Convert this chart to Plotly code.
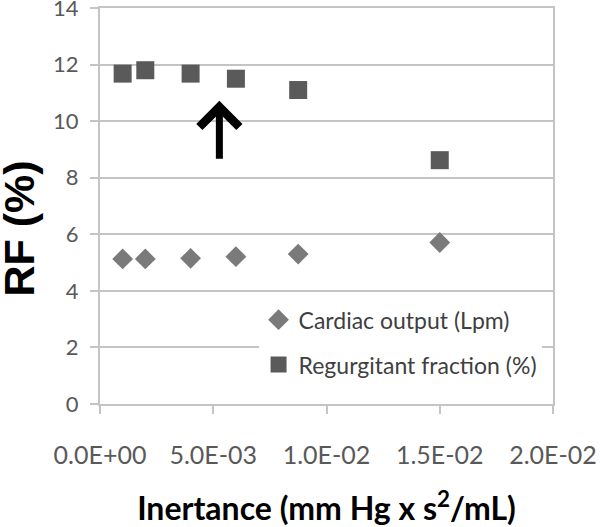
import plotly.graph_objects as go

# Data
inertance = [0.0010, 0.0020, 0.0040, 0.0060, 0.00875, 0.0150]
cardiac_output = [5.13, 5.13, 5.15, 5.21, 5.30, 5.71]
regurgitant_fraction = [11.68, 11.80, 11.68, 11.50, 11.10, 8.62]
x_ticks = [0.0, 0.005, 0.010, 0.015, 0.020]
x_tick_labels = ["0.0E+00", "5.0E-03", "1.0E-02", "1.5E-02", "2.0E-02"]
y_ticks = [0, 2, 4, 6, 8, 10, 12, 14]
arrow_x = 0.00527
arrow_from = 8.62
arrow_to = 10.72

grid_color = "#c4c4c4"

fig = go.Figure()
fig.add_trace(go.Scatter(
    x=inertance, y=cardiac_output, mode="markers",
    name="Cardiac output (Lpm)", legendgroup="a",
    marker=dict(symbol="diamond", size=16, color="#7a7a7a"),
))
fig.add_trace(go.Scatter(
    x=inertance, y=regurgitant_fraction, mode="markers",
    name="Regurgitant fraction (%)", legendgroup="b",
    marker=dict(symbol="square", size=18, color="#5a5a5a"),
))

fig.add_annotation(
    x=arrow_x, y=arrow_to, ax=arrow_x, ay=arrow_from,
    xref="x", yref="y", axref="x", ayref="y",
    text="", showarrow=True, arrowhead=4, arrowwidth=7, arrowsize=1.1,
    arrowcolor="#000000", standoff=0, startstandoff=0,
)

fig.add_annotation(
    x=-0.178, y=0.444, xref="paper", yref="paper",
    xanchor="center", yanchor="middle",
    text="<b>RF (%)</b>", textangle=-90, showarrow=False,
    font=dict(family="Liberation Sans", size=43, color="#000000"),
)

fig.update_layout(
    width=600, height=527,
    margin=dict(l=100, r=47, t=8, b=123, autoexpand=False),
    paper_bgcolor="white", plot_bgcolor="white",
    showlegend=True,
    legend=dict(
        x=0.35, y=0.267, xanchor="left", yanchor="top",
        bgcolor="white", borderwidth=0,
        font=dict(family="Lato", size=23, color="#404040"),
        tracegroupgap=12, traceorder="grouped",
        itemwidth=30,
    ),
    xaxis=dict(
        range=[0, 0.020], tickvals=x_ticks, ticktext=x_tick_labels,
        showgrid=False, zeroline=False, automargin=False,
        showline=True, linecolor=grid_color, linewidth=2, mirror=True,
        ticks="outside", ticklen=8, tickcolor=grid_color, tickwidth=2,
        tickfont=dict(family="Lato", size=25, color="#595959"),
        ticklabelstandoff=20, ticklabeloverflow="allow",
        title=dict(text="<b>Inertance (mm Hg x s<sup>2</sup>/mL)</b>",
                   font=dict(family="Lato", size=32, color="#000000"),
                   standoff=32),
    ),
    yaxis=dict(
        range=[0, 14], tickvals=y_ticks, automargin=False,
        showgrid=True, gridcolor=grid_color, gridwidth=2, zeroline=False,
        showline=True, linecolor=grid_color, linewidth=2, mirror=True,
        ticks="outside", ticklen=8, tickcolor=grid_color, tickwidth=2,
        tickfont=dict(family="Lato", size=22, color="#595959"),
        ticklabelstandoff=7, ticklabeloverflow="allow",
    ),
)

fig.write_html("out.html", config={"displayModeBar": False},
               post_script="document.body.style.margin='0';")
